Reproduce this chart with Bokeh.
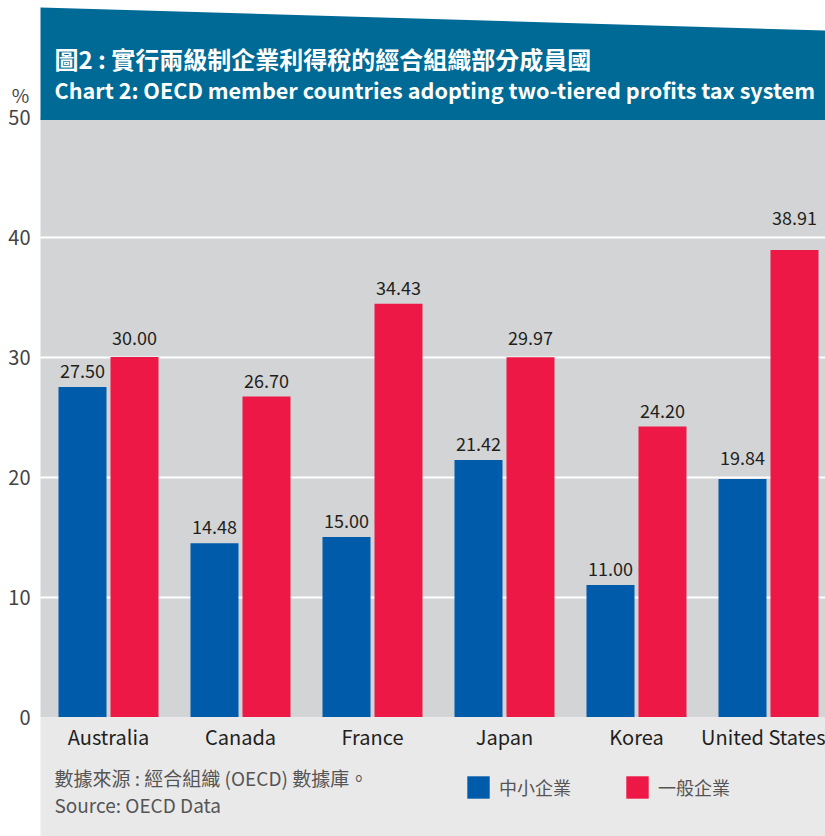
from bokeh.plotting import figure
from bokeh.models import (Range1d, FixedTicker, ColumnDataSource, PolyAnnotation,
                          BoxAnnotation, Label, Legend, LegendItem)
from bokeh.transform import dodge
from bokeh.embed import file_html
from bokeh.resources import INLINE
from bokeh.core.properties import value

# ---------------- data ----------------
countries = ["Australia", "Canada", "France", "Japan", "Korea", "United States"]
sme_rates = [27.50, 14.48, 15.00, 21.42, 11.00, 19.84]
general_rates = [30.00, 26.70, 34.43, 29.97, 24.20, 38.91]
y_ticks = [0, 10, 20, 30, 40, 50]
grid_ticks = [10, 20, 30, 40]
series_names = ["中小企業", "一般企業"]
title_zh = "圖2 : 實行兩級制企業利得稅的經合組織部分成員國"
title_en = "Chart 2: OECD member countries adopting two-tiered profits tax system"
source_zh = "數據來源 : 經合組織 (OECD) 數據庫。"
source_en = "Source: OECD Data"
unit_label = "%"

# ---------------- style ----------------
FONT = "Noto Sans CJK TC"
BLUE = "#005bab"
RED = "#ed1846"
HEADER = "#006a96"
PLOT_BG = "#d3d4d6"
LOWER_BG = "#e9e9ea"

W, H = 825, 836
CAT_PX = 132.0          # pixels per category
PX_PER_UNIT = 12.0      # pixels per percentage point
Y50_PX = 116.5          # canvas y of the 50 % line
PLOT_LEFT_PX = 40.0     # canvas x where the plot panel starts

x_start = -108.0 / CAT_PX
x_end = x_start + W / CAT_PX
y_top = 50 + Y50_PX / PX_PER_UNIT
y_bot = 50 - (H - Y50_PX) / PX_PER_UNIT


def X(px):
    return x_start + px / CAT_PX


def Y(py):
    return 50 - (py - Y50_PX) / PX_PER_UNIT


bar_w = 48.0 / CAT_PX
off = 26.0 / CAT_PX

p = figure(width=W, height=H, output_backend="svg", toolbar_location=None,
           x_range=Range1d(x_start, x_end), y_range=Range1d(y_bot, y_top),
           min_border=0)
p.background_fill_color = "white"
p.border_fill_color = "white"
p.outline_line_color = None

# plot panel and lower light band
p.add_layout(BoxAnnotation(left=X(PLOT_LEFT_PX), right=x_end, top=50, bottom=0,
                           fill_color=PLOT_BG, fill_alpha=1, line_color=None,
                           level="image"))
p.add_layout(BoxAnnotation(left=X(PLOT_LEFT_PX), right=x_end, top=0, bottom=y_bot,
                           fill_color=LOWER_BG, fill_alpha=1, line_color=None,
                           level="image"))

idx = list(range(len(countries)))


def label_y(v):
    y = v + 16 / PX_PER_UNIT
    for g in grid_ticks:
        if v - 0.05 <= g <= v + 20 / PX_PER_UNIT:
            y = max(y, g + 19 / PX_PER_UNIT)
    return y


src = ColumnDataSource(dict(
    x=idx, sme=sme_rates, gen=general_rates,
    sme_txt=["%.2f" % v for v in sme_rates],
    gen_txt=["%.2f" % v for v in general_rates],
    sme_ly=[label_y(v) for v in sme_rates],
    gen_ly=[label_y(v) for v in general_rates],
))

r1 = p.vbar(x=dodge("x", -off, range=p.x_range), top="sme", bottom=0, width=bar_w,
            source=src, fill_color=BLUE, line_color=None)
r2 = p.vbar(x=dodge("x", off, range=p.x_range), top="gen", bottom=0, width=bar_w,
            source=src, fill_color=RED, line_color=None)

for col_txt, col_y, o in (("sme_txt", "sme_ly", -off), ("gen_txt", "gen_ly", off)):
    p.text(x=dodge("x", o, range=p.x_range), y=col_y, text=col_txt, source=src,
           text_align="center", text_baseline="middle", text_font=value(FONT),
           text_font_size="18px", text_color="#231f20")

# axes
p.xaxis.fixed_location = 0
p.xaxis.ticker = FixedTicker(ticks=idx)
p.xaxis.major_label_overrides = {i: c for i, c in zip(idx, countries)}
p.xaxis.major_label_text_font = FONT
p.xaxis.major_label_text_font_size = "20px"
p.xaxis.major_label_text_color = "#231f20"
p.xaxis.major_label_standoff = 5
p.yaxis.fixed_location = X(PLOT_LEFT_PX)
p.yaxis.ticker = FixedTicker(ticks=y_ticks)
p.yaxis.major_label_text_font = FONT
p.yaxis.major_label_text_font_size = "20px"
p.yaxis.major_label_text_color = "#444444"
p.yaxis.major_label_standoff = 10
for ax in (p.xaxis, p.yaxis):
    ax.axis_line_color = None
    ax.major_tick_line_color = None
    ax.minor_tick_line_color = None
    ax.major_tick_out = 0
    ax.major_tick_in = 0

p.xgrid.visible = False
p.ygrid.ticker = FixedTicker(ticks=grid_ticks)
p.ygrid.grid_line_color = "white"
p.ygrid.grid_line_width = 2

# header band
p.add_layout(PolyAnnotation(xs=[X(PLOT_LEFT_PX), x_end, x_end, X(PLOT_LEFT_PX)],
                            ys=[Y(7), Y(30), Y(119.5), Y(119.5)],
                            fill_color=HEADER, fill_alpha=1, line_color=None))

tx = X(54)
p.add_layout(Label(x=tx, y=Y(58), text=title_zh, text_baseline="middle",
                   text_font=FONT, text_font_size="24px", text_font_style="bold",
                   text_color="white", level="overlay"))
p.add_layout(Label(x=tx, y=Y(89), text=title_en, text_baseline="middle",
                   text_font=FONT, text_font_size="21.6px", text_font_style="bold",
                   text_color="white", level="overlay"))
p.add_layout(Label(x=X(20), y=Y(94), text=unit_label,
                   text_align="center", text_baseline="middle", text_font=FONT,
                   text_font_size="19px", text_color="#444444", level="overlay"))

p.add_layout(Label(x=tx, y=Y(777), text=source_zh, text_baseline="middle",
                   text_font=FONT, text_font_size="19px", text_color="#555555",
                   level="overlay"))
p.add_layout(Label(x=tx, y=Y(804), text=source_en, text_baseline="middle",
                   text_font=FONT, text_font_size="19px", text_color="#555555",
                   level="overlay"))

legend = Legend(items=[LegendItem(label=series_names[0], renderers=[r1]),
                       LegendItem(label=series_names[1], renderers=[r2])],
                location=(464, 35), orientation="horizontal",
                glyph_width=28, glyph_height=28, label_standoff=7, spacing=52,
                padding=0, margin=0, background_fill_alpha=0, border_line_color=None,
                label_text_font=FONT, label_text_font_size="18px",
                label_text_color="#555555", label_text_baseline="middle")
p.add_layout(legend)

open("out.html", "w").write(file_html(p, INLINE))
